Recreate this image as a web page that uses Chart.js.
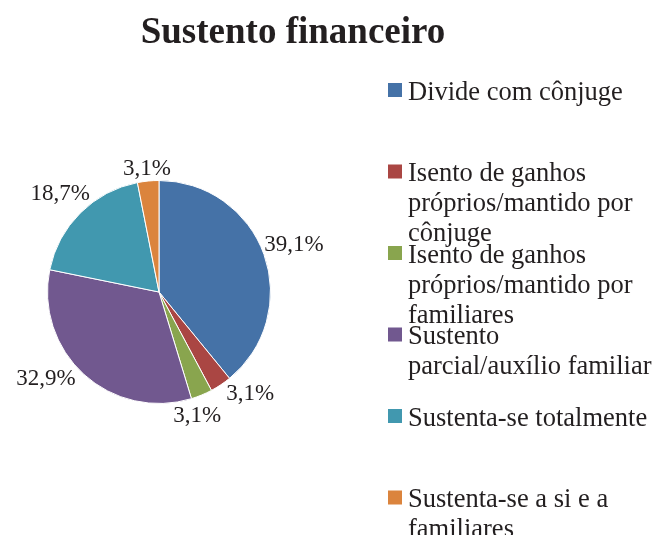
<!DOCTYPE html>
<html>
<head>
<meta charset="utf-8">
<script src="https://cdn.jsdelivr.net/npm/chart.js@4/dist/chart.umd.min.js"></script>
<style>
  html, body { margin: 0; padding: 0; background: #fff; }
  canvas { display: block; }
</style>
</head>
<body>
<canvas id="chart" width="655" height="535"></canvas>
<script>
const title = "Sustento financeiro";
const categories = [
  "Divide com cônjuge",
  "Isento de ganhos próprios/mantido por cônjuge",
  "Isento de ganhos próprios/mantido por familiares",
  "Sustento parcial/auxílio familiar",
  "Sustenta-se totalmente",
  "Sustenta-se a si e a familiares"
];
const percentages = [39.1, 3.1, 3.1, 32.9, 18.7, 3.1];
const sliceColors = ["#4572a7", "#aa4643", "#89a54e", "#71588f", "#4198af", "#db843d"];

const textColor = "#231f20";
const serif = "'Liberation Serif', 'Times New Roman', serif";

// small angle nudges (degrees) so the labels of the thin slices do not collide
const labelNudge = [0, -8.6, 5.3, 10.6, 0, 0];

function wrapText(ctx, text, maxWidth) {
  const words = text.split(" ");
  const lines = [];
  let line = "";
  words.forEach((w) => {
    const test = line ? line + " " + w : w;
    if (line && ctx.measureText(test).width > maxWidth) {
      lines.push(line);
      line = w;
    } else {
      line = test;
    }
  });
  if (line) lines.push(line);
  return lines;
}

const decorations = {
  id: "decorations",
  afterDraw(chart) {
    const ctx = chart.ctx;
    ctx.save();
    ctx.fillStyle = textColor;

    // title
    ctx.font = "bold 37px " + serif;
    ctx.textAlign = "center";
    ctx.textBaseline = "alphabetic";
    ctx.fillText(title, 293, 43);

    // data labels outside the slices
    ctx.font = "23px " + serif;
    ctx.textAlign = "center";
    ctx.textBaseline = "middle";
    const arcs = chart.getDatasetMeta(0).data;
    arcs.forEach((arc, i) => {
      const text = percentages[i].toFixed(1).replace(".", ",") + "%";
      const mid = (arc.startAngle + arc.endAngle) / 2 + labelNudge[i] * Math.PI / 180;
      const c = Math.cos(mid), s = Math.sin(mid);
      const halfW = ctx.measureText(text).width / 2;
      const halfH = 11;
      const d = arc.outerRadius + halfW * Math.abs(c) + halfH * Math.abs(s);
      ctx.fillText(text, arc.x + c * d, arc.y + s * d + 1);
    });

    // legend on the right
    ctx.font = "26.5px " + serif;
    ctx.textAlign = "left";
    ctx.textBaseline = "alphabetic";
    categories.forEach((label, i) => {
      const base = 99.5 + i * 81.5;
      ctx.fillStyle = sliceColors[i];
      ctx.fillRect(388, base - 16.5, 14, 14);
      ctx.fillStyle = textColor;
      wrapText(ctx, label, 246).forEach((ln, j) => {
        ctx.fillText(ln, 408, base + j * 30);
      });
    });
    ctx.restore();
  }
};

new Chart(document.getElementById("chart"), {
  type: "pie",
  data: {
    labels: categories,
    datasets: [{
      data: percentages,
      backgroundColor: sliceColors,
      borderColor: "#ffffff",
      borderWidth: 1
    }]
  },
  options: {
    responsive: false,
    animation: false,
    layout: { padding: { left: 47, right: 384, top: 180, bottom: 131 } },
    plugins: {
      legend: { display: false },
      title: { display: false },
      tooltip: { enabled: false }
    }
  },
  plugins: [decorations]
});
</script>
</body>
</html>
